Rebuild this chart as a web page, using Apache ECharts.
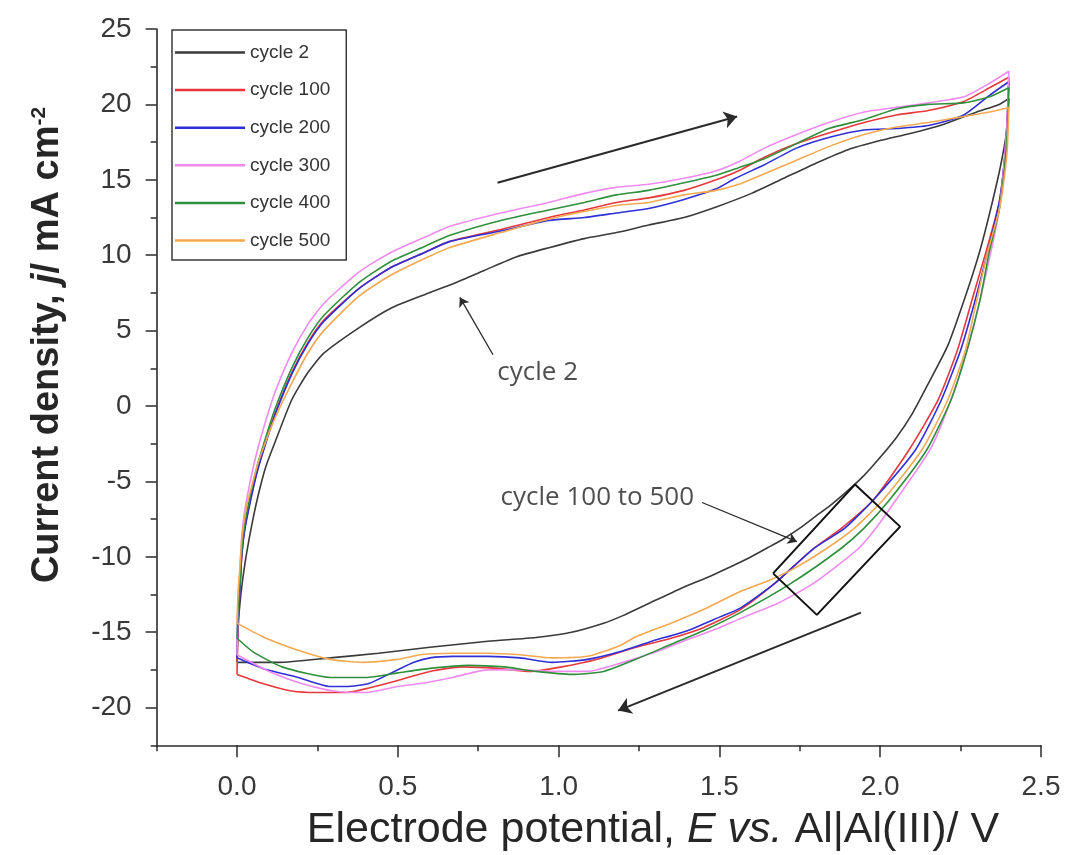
<!DOCTYPE html>
<html>
<head>
<meta charset="utf-8">
<script src="https://cdn.jsdelivr.net/npm/echarts@6/dist/echarts.min.js"></script>
<style>
  html, body { margin: 0; padding: 0; background: #ffffff; }
  #chart { width: 1065px; height: 855px; }
</style>
</head>
<body>
<div id="chart"></div>
<script>
// Cyclic voltammograms of the electrode at several cycle numbers.
// Each loop: anodic sweep 0 -> 2.4 V, then cathodic sweep back to 0 V.
// Points are [E / V, j / mA cm^-2].

const seriesNames = ['cycle 2', 'cycle 100', 'cycle 200', 'cycle 300', 'cycle 400', 'cycle 500'];
const seriesColors = ['#3a3a3a', '#e8383c', '#2f2fd8', '#f08af0', '#2e8f3c', '#f4a950'];

const cycle2 = [
  [0, -17.0], [0.004, -14.5], [0.012, -12.5], [0.025, -10.4], [0.045, -8.0], [0.065, -6.0],
  [0.09, -4.0], [0.12, -2.3], [0.17, 0.4], [0.22, 2.2], [0.27, 3.5], [0.38, 5.2], [0.48, 6.5],
  [0.585, 7.4], [0.66, 8.0], [0.77, 9.0], [0.87, 9.9], [0.97, 10.5], [1.08, 11.1], [1.18, 11.5],
  [1.28, 12.0], [1.39, 12.5], [1.49, 13.2], [1.6, 14.1], [1.7, 15.1], [1.8, 16.1], [1.9, 17.0],
  [2.0, 17.6], [2.1, 18.1], [2.2, 18.7], [2.3, 19.5], [2.37, 20.0], [2.40, 20.4],
  [2.395, 18.5], [2.375, 16.0], [2.345, 13.2], [2.31, 10.3], [2.27, 7.6], [2.21, 4.0], [2.15, 1.5],
  [2.10, -0.5], [2.05, -2.1], [2.0, -3.4], [1.95, -4.6], [1.90, -5.6], [1.85, -6.5], [1.80, -7.3],
  [1.75, -8.1], [1.70, -8.8], [1.65, -9.4], [1.59, -10.1], [1.48, -11.2], [1.38, -12.1],
  [1.28, -13.1], [1.20, -13.9], [1.14, -14.4], [1.04, -15.0], [0.93, -15.35], [0.78, -15.6],
  [0.6, -16.0], [0.44, -16.4], [0.29, -16.7], [0.13, -17.0], [0, -17.0]
];

const cycle100 = [
  [0, -17.8], [0.003, -14.5], [0.008, -12.6], [0.015, -9.8], [0.025, -8.0], [0.046, -5.8],
  [0.065, -4.1], [0.092, -2.2], [0.118, -0.5], [0.17, 2.2], [0.22, 4.2], [0.27, 5.7], [0.38, 7.8],
  [0.48, 9.2], [0.585, 10.2], [0.66, 10.9], [0.82, 11.7], [0.97, 12.5], [1.08, 13.0], [1.18, 13.5],
  [1.28, 13.8], [1.39, 14.3], [1.49, 15.0], [1.56, 15.6], [1.64, 16.5], [1.74, 17.4], [1.84, 18.1],
  [1.95, 18.8], [2.05, 19.3], [2.15, 19.6], [2.26, 20.2], [2.34, 21.1], [2.40, 21.8],
  [2.395, 19.0], [2.385, 16.0], [2.37, 13.5], [2.33, 10.3], [2.285, 7.0], [2.24, 3.7], [2.18, 0.4],
  [2.09, -2.9], [1.98, -6.2], [1.88, -8.1], [1.79, -9.5], [1.67, -11.8], [1.565, -13.5],
  [1.45, -14.7], [1.35, -15.4], [1.24, -16.0], [1.12, -16.8], [1.01, -17.3], [0.91, -17.6],
  [0.81, -17.4], [0.7, -17.3], [0.6, -17.6], [0.5, -18.2], [0.41, -18.7], [0.34, -19.0],
  [0.25, -19.0], [0.17, -18.9], [0.08, -18.4], [0, -17.8]
];

const cycle200 = [
  [0, -16.7], [0.003, -14.3], [0.008, -12.7], [0.015, -9.9], [0.025, -8.1], [0.046, -5.9],
  [0.065, -4.2], [0.092, -2.3], [0.118, -0.6], [0.17, 2.1], [0.22, 4.1], [0.27, 5.6], [0.38, 7.8],
  [0.48, 9.2], [0.585, 10.2], [0.66, 10.9], [0.82, 11.6], [0.97, 12.3], [1.08, 12.5], [1.18, 12.8],
  [1.28, 13.1], [1.39, 13.7], [1.49, 14.4], [1.55, 15.1], [1.64, 16.0], [1.74, 17.1], [1.84, 17.8],
  [1.95, 18.3], [2.05, 18.4], [2.15, 18.6], [2.26, 19.3], [2.34, 20.6], [2.40, 21.5],
  [2.395, 19.0], [2.385, 16.0], [2.37, 13.5], [2.335, 10.3], [2.295, 7.0], [2.25, 3.7], [2.19, 0.4],
  [2.11, -2.9], [1.98, -6.2], [1.89, -8.1], [1.79, -9.5], [1.67, -11.8], [1.565, -13.4],
  [1.50, -14.0], [1.40, -14.9], [1.29, -15.6], [1.19, -16.3], [1.09, -16.8], [0.98, -17.0],
  [0.88, -16.7], [0.78, -16.6], [0.67, -16.6], [0.6, -16.7], [0.55, -17.0], [0.48, -17.7],
  [0.41, -18.4], [0.34, -18.6], [0.29, -18.6], [0.19, -18.0], [0.08, -17.4], [0, -16.7]
];

const cycle300 = [
  [0, -16.5], [0.003, -13.5], [0.008, -11.5], [0.015, -8.6], [0.025, -6.8], [0.046, -4.5],
  [0.065, -2.8], [0.092, -0.8], [0.118, 0.9], [0.17, 3.5], [0.22, 5.4], [0.27, 6.8], [0.38, 8.9],
  [0.48, 10.2], [0.585, 11.2], [0.66, 11.9], [0.82, 12.8], [0.97, 13.5], [1.08, 14.1], [1.18, 14.5],
  [1.28, 14.7], [1.39, 15.1], [1.49, 15.6], [1.56, 16.2], [1.64, 17.1], [1.74, 18.0], [1.84, 18.8],
  [1.95, 19.5], [2.05, 19.8], [2.15, 20.1], [2.26, 20.5], [2.34, 21.4], [2.40, 22.2],
  [2.395, 19.0], [2.385, 16.0], [2.37, 13.0], [2.345, 10.3], [2.31, 7.0], [2.27, 3.7], [2.22, 0.4],
  [2.155, -2.9], [2.05, -6.2], [1.99, -8.0], [1.93, -9.5], [1.79, -11.8], [1.68, -13.1],
  [1.565, -14.1], [1.50, -14.7], [1.40, -15.5], [1.29, -16.4], [1.20, -17.0], [1.09, -17.6],
  [0.98, -17.6], [0.88, -17.5], [0.78, -17.5], [0.67, -18.0], [0.57, -18.4], [0.5, -18.6],
  [0.4, -19.0], [0.3, -18.9], [0.2, -18.4], [0.1, -17.6], [0, -16.5]
];

const cycle400 = [
  [0, -15.4], [0.003, -13.5], [0.008, -12.2], [0.015, -9.5], [0.025, -7.7], [0.046, -5.5],
  [0.065, -3.8], [0.092, -1.9], [0.118, -0.2], [0.17, 2.5], [0.22, 4.5], [0.27, 6.0], [0.38, 8.2],
  [0.48, 9.6], [0.585, 10.6], [0.66, 11.3], [0.82, 12.3], [0.97, 13.0], [1.08, 13.5], [1.18, 14.0],
  [1.28, 14.3], [1.39, 14.8], [1.49, 15.3], [1.56, 15.8], [1.64, 16.4], [1.74, 17.4], [1.84, 18.4],
  [1.95, 19.0], [2.05, 19.7], [2.15, 20.0], [2.26, 20.1], [2.34, 20.5], [2.40, 21.1],
  [2.395, 18.0], [2.385, 15.5], [2.37, 13.0], [2.34, 10.3], [2.31, 7.0], [2.27, 3.7], [2.22, 0.4],
  [2.145, -2.9], [2.03, -6.2], [1.95, -8.1], [1.875, -9.5], [1.72, -11.8], [1.565, -13.7],
  [1.45, -14.9], [1.35, -15.8], [1.24, -16.8], [1.14, -17.6], [1.04, -17.8], [0.93, -17.6],
  [0.83, -17.3], [0.72, -17.2], [0.6, -17.4], [0.5, -17.7], [0.4, -18.0], [0.29, -18.0],
  [0.14, -17.3], [0.05, -16.3], [0, -15.4]
];

const cycle500 = [
  [0, -14.4], [0.003, -12.5], [0.008, -11.0], [0.015, -8.8], [0.03, -6.6], [0.046, -5.3],
  [0.065, -3.8], [0.092, -2.2], [0.118, -0.8], [0.17, 1.5], [0.22, 3.5], [0.27, 5.0], [0.38, 7.3],
  [0.48, 8.7], [0.585, 9.8], [0.66, 10.5], [0.82, 11.5], [0.97, 12.4], [1.08, 12.9], [1.18, 13.3],
  [1.28, 13.5], [1.39, 14.0], [1.49, 14.3], [1.56, 14.7], [1.64, 15.4], [1.74, 16.3], [1.84, 17.2],
  [1.95, 18.0], [2.05, 18.5], [2.15, 18.8], [2.26, 19.2], [2.34, 19.5], [2.40, 19.8],
  [2.395, 17.0], [2.385, 15.0], [2.37, 13.0], [2.335, 10.3], [2.30, 7.0], [2.265, 3.7], [2.21, 0.4],
  [2.13, -2.9], [2.01, -6.2], [1.92, -8.1], [1.83, -9.5], [1.73, -10.8], [1.65, -11.6],
  [1.565, -12.3], [1.45, -13.5], [1.35, -14.4], [1.24, -15.3], [1.19, -15.9], [1.09, -16.6],
  [0.98, -16.7], [0.88, -16.5], [0.78, -16.4], [0.67, -16.4], [0.57, -16.5], [0.5, -16.8],
  [0.39, -17.0], [0.29, -16.8], [0.19, -16.2], [0.08, -15.3], [0, -14.4]
];

const cycleData = [cycle2, cycle100, cycle200, cycle300, cycle400, cycle500];

// Tick labels
const xTickLabels = ['0.0', '0.5', '1.0', '1.5', '2.0', '2.5'];
const yTickLabels = ['-20', '-15', '-10', '-5', '0', '5', '10', '15', '20', '25'];

// Annotations in data coordinates
const sweepForwardArrow = [[0.81, 14.8], [1.555, 19.2]];
const sweepBackwardArrow = [[1.94, -13.7], [1.185, -20.2]];
const cycle2Pointer = [[0.796, 3.4], [0.693, 7.2]];
const groupPointer = [[1.446, -6.4], [1.741, -9.0]];
const groupBox = [[1.667, -11.1], [1.922, -5.2], [2.062, -8.0], [1.803, -13.85], [1.667, -11.1]];
const cycle2Label = [[0.808, 2.2]];
const groupLabel = [[0.818, -6.05]];

// Layout
const xMin = -0.25, xMax = 2.5, yMin = -22.5, yMax = 25;
const plotLeft = 156.6, plotRight = 1041, plotTop = 29, plotBottom = 745.3;
const pxPerV = (plotRight - plotLeft) / (xMax - xMin);
const pxPerJ = (plotBottom - plotTop) / (yMax - yMin);

const FONT = '"Liberation Sans", Arial, sans-serif';
const AXIS_COLOR = '#2b2b2b';
const LABEL_COLOR = '#383838';

const chart = echarts.init(document.getElementById('chart'), null, { renderer: 'canvas' });

const curveSeries = seriesNames.map((name, i) => ({
  name: name,
  type: 'line',
  xAxisIndex: 0,
  yAxisIndex: 0,
  data: cycleData[i],
  symbol: 'none',
  showSymbol: false,
  smooth: 0.2,
  lineStyle: { color: seriesColors[i], width: 1.6 },
  itemStyle: { color: seriesColors[i] },
  emphasis: { disabled: true },
  z: 3
}));

function arrowSeries(coords, width, size) {
  return {
    type: 'lines',
    coordinateSystem: 'cartesian2d',
    xAxisIndex: 0,
    yAxisIndex: 0,
    symbol: ['none', 'arrow'],
    symbolSize: size,
    silent: true,
    lineStyle: { color: '#2a2a2a', width: width, opacity: 1, curveness: 0 },
    data: [{ coords: coords }],
    z: 5
  };
}

function textSeries(point, text) {
  return {
    type: 'scatter',
    xAxisIndex: 0,
    yAxisIndex: 0,
    data: point,
    symbol: 'circle',
    symbolSize: 1,
    silent: true,
    itemStyle: { color: 'transparent' },
    label: {
      show: true,
      position: 'right',
      distance: 0,
      formatter: text,
      color: '#222222',
      fontSize: 26,
      fontFamily: '"Open Sans", sans-serif'
    },
    z: 6
  };
}

const option = {
  animation: false,
  backgroundColor: '#ffffff',
  textStyle: { fontFamily: FONT },
  grid: [
    // main plot area: full axis range with minor ticks
    { left: plotLeft, width: plotRight - plotLeft, top: plotTop, height: plotBottom - plotTop },
    // major y ticks and labels (-20 .. 25)
    { left: plotLeft, width: plotRight - plotLeft, top: plotTop, height: 45 * pxPerJ },
    // major x ticks and labels (0 .. 2.5)
    { left: plotLeft + 0.25 * pxPerV, width: 2.5 * pxPerV, top: plotTop, height: plotBottom - plotTop }
  ],
  xAxis: [
    {
      gridIndex: 0, type: 'value', min: xMin, max: xMax, interval: 0.25,
      axisLine: { show: true, onZero: false, lineStyle: { color: AXIS_COLOR, width: 1.6 } },
      axisTick: { show: true, inside: false, length: 6, lineStyle: { color: AXIS_COLOR, width: 1.5 } },
      axisLabel: { show: false },
      splitLine: { show: false }
    },
    { gridIndex: 1, type: 'value', min: 0, max: 1, show: false },
    {
      gridIndex: 2, type: 'value', min: 0, max: 2.5, interval: 0.5,
      axisLine: { show: false, onZero: false },
      axisTick: { show: true, inside: false, length: 12, lineStyle: { color: AXIS_COLOR, width: 1.5 } },
      axisLabel: {
        show: true, margin: 28, fontSize: 28, color: LABEL_COLOR, fontFamily: FONT,
        formatter: v => xTickLabels[Math.round(v / 0.5)]
      },
      splitLine: { show: false }
    }
  ],
  yAxis: [
    {
      gridIndex: 0, type: 'value', min: yMin, max: yMax, interval: 2.5,
      axisLine: { show: true, onZero: false, lineStyle: { color: AXIS_COLOR, width: 1.6 } },
      axisTick: { show: true, inside: false, length: 6, lineStyle: { color: AXIS_COLOR, width: 1.5 } },
      axisLabel: { show: false },
      splitLine: { show: false }
    },
    { gridIndex: 1, type: 'value', min: -20, max: 25, interval: 5,
      axisLine: { show: false, onZero: false },
      axisTick: { show: true, inside: false, length: 11, lineStyle: { color: AXIS_COLOR, width: 1.5 } },
      axisLabel: {
        show: true, margin: 25, fontSize: 28, color: LABEL_COLOR, fontFamily: FONT,
        formatter: v => yTickLabels[Math.round((v + 20) / 5)]
      },
      splitLine: { show: false }
    },
    { gridIndex: 2, type: 'value', min: 0, max: 1, show: false }
  ],
  legend: {
    data: seriesNames,
    orient: 'vertical',
    left: 172,
    top: 30,
    icon: 'rect',
    itemWidth: 70,
    itemHeight: 2.5,
    itemGap: 18.6,
    padding: [13, 16, 10, 3],
    borderColor: '#3a3a3a',
    borderWidth: 1.5,
    backgroundColor: '#ffffff',
    selectedMode: false,
    textStyle: { fontSize: 19, color: '#333333', fontFamily: FONT },
    z: 10
  },
  graphic: [
    {
      type: 'text',
      x: 653, y: 830,
      style: {
        text: 'Electrode potential, {i|E vs.} Al|Al(III)/ V',
        fill: '#262626',
        fontSize: 43,
        fontFamily: FONT,
        align: 'center',
        verticalAlign: 'middle',
        rich: {
          i: { fontStyle: 'italic', fontSize: 43, fontFamily: FONT, fill: '#262626' }
        }
      }
    },
    {
      type: 'text',
      x: 48, y: 345,
      rotation: Math.PI / 2,
      style: {
        text: 'Current density, {i|j}/ mA cm{sup|-2}',
        fill: '#262626',
        fontSize: 38,
        fontWeight: 'bold',
        fontFamily: FONT,
        align: 'center',
        verticalAlign: 'middle',
        rich: {
          i: { fontStyle: 'italic', fontWeight: 'bold', fontSize: 38, fontFamily: FONT, fill: '#262626' },
          sup: { fontSize: 21, fontWeight: 'bold', fontFamily: FONT, fill: '#262626', verticalAlign: 'top' }
        }
      }
    }
  ],
  series: curveSeries.concat([
    arrowSeries(sweepForwardArrow, 2, 13),
    arrowSeries(sweepBackwardArrow, 2, 13),
    arrowSeries(cycle2Pointer, 1.3, 9),
    arrowSeries(groupPointer, 1.3, 9),
    {
      type: 'line',
      xAxisIndex: 0,
      yAxisIndex: 0,
      data: groupBox,
      symbol: 'none',
      smooth: false,
      silent: true,
      lineStyle: { color: '#111111', width: 2 },
      z: 5
    },
    textSeries(cycle2Label, 'cycle 2'),
    textSeries(groupLabel, 'cycle 100 to 500')
  ])
};

chart.setOption(option);
</script>
</body>
</html>
